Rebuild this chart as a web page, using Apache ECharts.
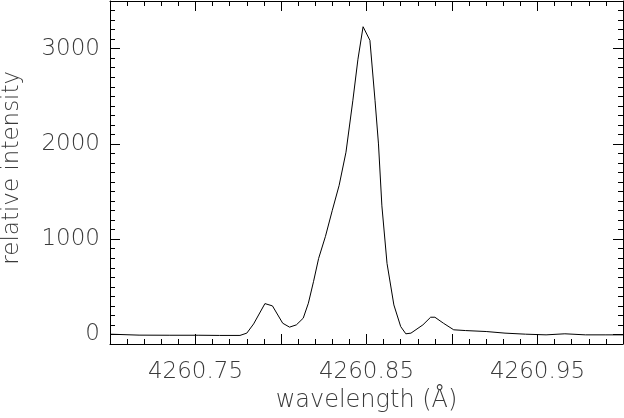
<!DOCTYPE html>
<html><head><meta charset="utf-8">
<script src="https://cdn.jsdelivr.net/npm/echarts@6/dist/echarts.min.js"></script>
<style>html,body{margin:0;padding:0;background:#fff}#c{width:624px;height:418px}</style>
</head><body><div id="c"></div>
<script>
const wavelength = [4260.700,4260.717,4260.735,4260.752,4260.764,4260.776,4260.780,4260.784,4260.7906,4260.795,4260.801,4260.805,4260.809,4260.813,4260.816,4260.819,4260.822,4260.826,4260.830,4260.834,4260.838,4260.842,4260.845,4260.848,4260.852,4260.855,4260.857,4260.859,4260.862,4260.866,4260.870,4260.873,4260.876,4260.883,4260.8875,4260.890,4260.895,4260.901,4260.908,4260.920,4260.931,4260.943,4260.955,4260.966,4260.978,4260.990,4261.000];
const intensity = [3,-7,-8,-8,-10,-10,14,111,324,300,118,77,101,171,328,554,798,1030,1303,1565,1913,2453,2889,3230,3087,2453,2000,1350,746,310,83,7,14,101,181,181,118,49,41,31,14,3,-4,7,-4,-4,-4];
const xTickLabels = ['4260.75','4260.85','4260.95'];
const yTickLabels = ['0','1000','2000','3000'];
const xTitle = 'wavelength (Å)';
const yTitle = 'relative intensity';

const font = 'DejaVu Sans';
const txt = '#3a3a3a';
const fw = 200;
const lineStyle = {color:'#000', width:1};
const chart = echarts.init(document.getElementById('c'), null, {renderer:'canvas'});
const g0 = {left:110, right:1, top:1, bottom:74, containLabel:false, outerBoundsMode:'none'};
const g1 = {left:110, right:1, top:1, bottom:83.5, containLabel:false, outerBoundsMode:'none'};
const xBase = {type:'value', min:4260.70, max:4261.00, interval:0.05, splitLine:{show:false}};
chart.setOption({
  animation:false,
  backgroundColor:'#fff',
  grid:[g0, g1],
  xAxis:[
    Object.assign({}, xBase, {gridIndex:0, position:'bottom',
      axisLine:{show:true, onZero:false, lineStyle},
      axisTick:{show:true, inside:true, length:10, lineStyle},
      minorTick:{show:true, splitNumber:5, length:5, lineStyle},
      axisLabel:{show:true, margin:17, color:txt, fontFamily:font, fontWeight:fw, fontSize:23,
        formatter:v => xTickLabels.includes(v.toFixed(2)) ? v.toFixed(2) : ''},
      name:xTitle, nameLocation:'middle', nameGap:45,
      nameTextStyle:{color:txt, fontFamily:font, fontWeight:fw, fontSize:24}}),
    Object.assign({}, xBase, {gridIndex:0, position:'top',
      axisLine:{show:true, onZero:false, lineStyle},
      axisTick:{show:true, inside:true, length:10, lineStyle},
      minorTick:{show:true, splitNumber:5, length:5, lineStyle},
      axisLabel:{show:false}}),
    Object.assign({}, xBase, {gridIndex:1, show:false})
  ],
  yAxis:[
    {type:'value', gridIndex:0, min:-100, max:3500, interval:100, position:'left',
      splitLine:{show:false},
      axisLine:{show:true, onZero:false, lineStyle},
      axisTick:{show:true, inside:true, length:5, lineStyle},
      axisLabel:{show:false}},
    {type:'value', gridIndex:0, min:-100, max:3500, interval:100, position:'right',
      splitLine:{show:false},
      axisLine:{show:true, onZero:false, lineStyle},
      axisTick:{show:true, inside:true, length:5, lineStyle},
      axisLabel:{show:false}},
    {type:'value', gridIndex:1, min:0, max:3500, interval:1000, position:'left',
      splitLine:{show:false},
      axisLine:{show:false},
      axisTick:{show:true, inside:true, length:10, lineStyle},
      axisLabel:{show:true, margin:10, color:txt, fontFamily:font, fontWeight:fw, fontSize:23,
        formatter:v => yTickLabels.includes(String(Math.round(v))) ? String(Math.round(v)) : ''},
      name:yTitle, nameLocation:'middle', nameGap:86, nameRotate:90,
      nameTextStyle:{color:txt, fontFamily:font, fontWeight:fw, fontSize:23}},
    {type:'value', gridIndex:1, min:0, max:3500, interval:1000, position:'right',
      splitLine:{show:false},
      axisLine:{show:false},
      axisTick:{show:true, inside:true, length:10, lineStyle},
      axisLabel:{show:false}}
  ],
  series:[{
    type:'line', xAxisIndex:0, yAxisIndex:0,
    data: wavelength.map((w,i)=>[w, intensity[i]]),
    showSymbol:false, smooth:false,
    lineStyle:{color:'#000', width:1}
  }]
});
</script></body></html>
